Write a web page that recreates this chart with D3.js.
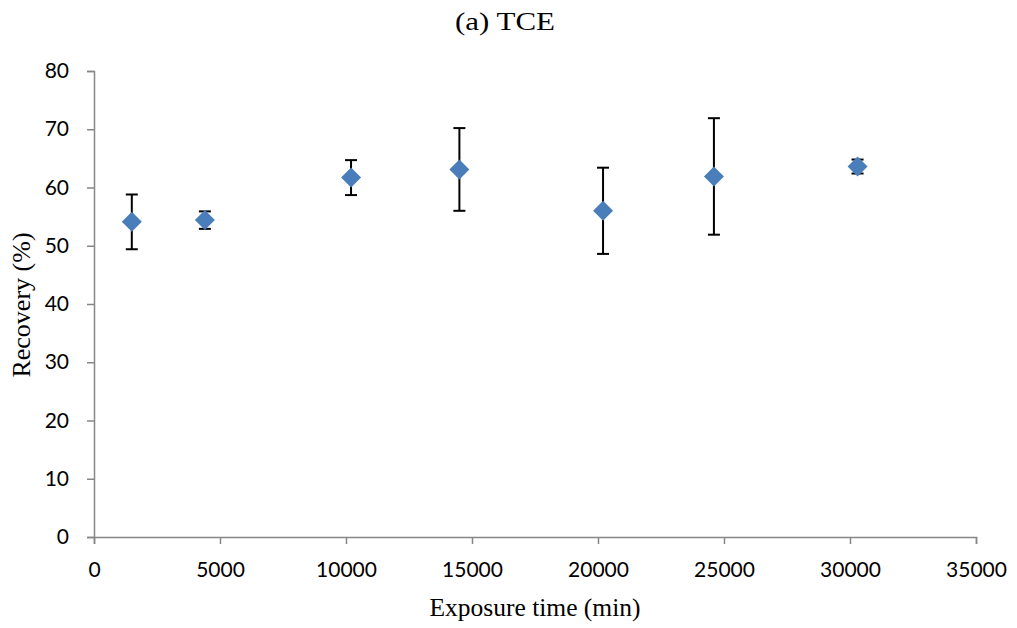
<!DOCTYPE html>
<html>
<head>
<meta charset="utf-8">
<script src="https://cdn.jsdelivr.net/npm/d3@7"></script>
<style>
  html, body { margin: 0; padding: 0; background: #fff; }
  svg { display: block; }
  .tick text { font-family: Lato, "Open Sans", sans-serif; font-size: 21px; fill: #000; }
</style>
</head>
<body>
<svg id="chart" width="1017" height="628"></svg>
<script>
// Exposure time (min) and mean recovery (%) with error bar half-widths
const exposureTime = [1500, 4400, 10200, 14500, 20200, 24600, 30300];
const recovery     = [54.1, 54.4, 61.7, 63.1, 56.0, 61.9, 63.6];
const errorBar     = [4.7, 1.5, 3.0, 7.1, 7.4, 10.0, 1.2];
const xTicks = [0, 5000, 10000, 15000, 20000, 25000, 30000, 35000];
const yTicks = [0, 10, 20, 30, 40, 50, 60, 70, 80];

const svg = d3.select("#chart");
const margin = { left: 94, right: 41, top: 71, bottom: 91 };
const W = 1017, H = 628;

const x = d3.scaleLinear().domain([0, 35000]).range([margin.left, W - margin.right]);
const y = d3.scaleLinear().domain([0, 80]).range([H - margin.bottom, margin.top]);

const axisColor = "#868686";

// Y axis
const yAxis = svg.append("g")
  .attr("transform", `translate(${margin.left},0)`)
  .call(d3.axisLeft(y).tickValues(yTicks).tickSize(7).tickPadding(18).tickFormat(d3.format("d")));
yAxis.select(".domain").attr("stroke", axisColor).attr("stroke-width", 1.5);
yAxis.selectAll(".tick line").attr("stroke", axisColor).attr("stroke-width", 1.5);

// X axis
const xAxis = svg.append("g")
  .attr("transform", `translate(0,${H - margin.bottom})`)
  .call(d3.axisBottom(x).tickValues(xTicks).tickSize(7).tickPadding(18).tickFormat(d3.format("d")));
xAxis.select(".domain").attr("stroke", axisColor).attr("stroke-width", 1.5);
xAxis.selectAll(".tick line").attr("stroke", axisColor).attr("stroke-width", 1.5);

// Error bars
const capHalf = 6;
const eb = svg.append("g").attr("stroke", "#000").attr("stroke-width", 2);
exposureTime.forEach((t, i) => {
  const cx = x(t), hi = y(recovery[i] + errorBar[i]), lo = y(recovery[i] - errorBar[i]);
  eb.append("line").attr("x1", cx).attr("x2", cx).attr("y1", hi).attr("y2", lo);
  eb.append("line").attr("x1", cx - capHalf).attr("x2", cx + capHalf).attr("y1", hi).attr("y2", hi);
  eb.append("line").attr("x1", cx - capHalf).attr("x2", cx + capHalf).attr("y1", lo).attr("y2", lo);
});

// Diamond markers
const diamond = d3.symbol().type(d3.symbolSquare).size(200);
svg.append("g").selectAll("path")
  .data(exposureTime)
  .join("path")
  .attr("d", diamond)
  .attr("transform", (t, i) => `translate(${x(t)},${y(recovery[i])}) rotate(45)`)
  .attr("fill", "#4a7ebb");

// Title and axis titles
svg.append("text")
  .attr("x", 505).attr("y", 30)
  .attr("text-anchor", "middle")
  .attr("font-family", "'Liberation Serif', serif")
  .attr("font-size", 25)
  .attr("textLength", 100)
  .attr("lengthAdjust", "spacingAndGlyphs")
  .text("(a) TCE");

svg.append("text")
  .attr("x", 535).attr("y", 616)
  .attr("text-anchor", "middle")
  .attr("font-family", "'Liberation Serif', serif")
  .attr("font-size", 25.5)
  .text("Exposure time (min)");

svg.append("text")
  .attr("transform", "translate(30,305) rotate(-90)")
  .attr("text-anchor", "middle")
  .attr("font-family", "'Liberation Serif', serif")
  .attr("font-size", 26)
  .text("Recovery (%)");
</script>
</body>
</html>
